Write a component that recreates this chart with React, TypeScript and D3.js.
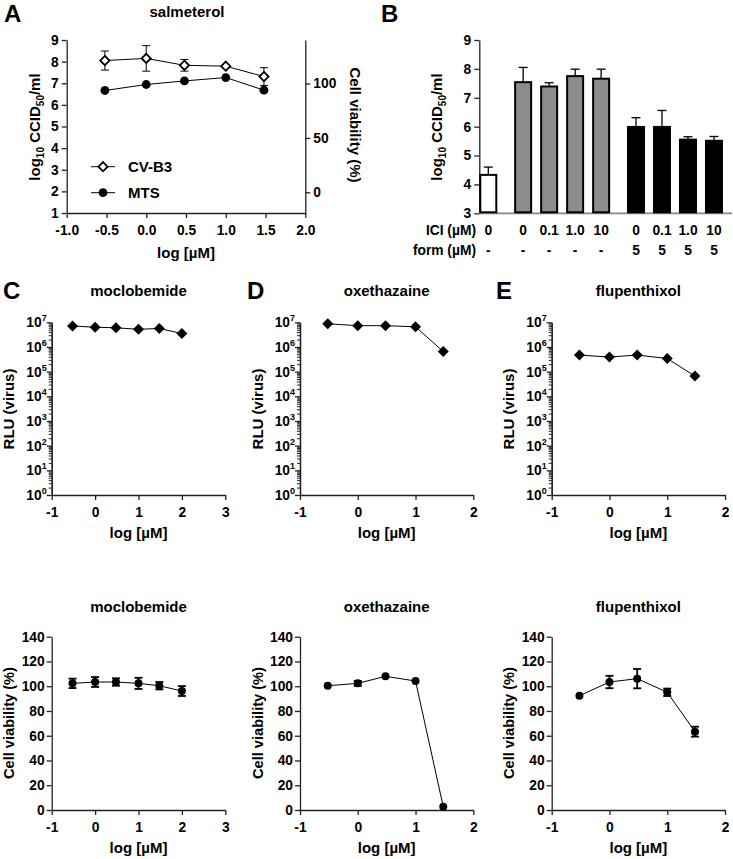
import { useEffect, useRef } from "react";
import * as d3 from "d3";

const FONT = "'Liberation Sans', Arial, Helvetica, sans-serif";
const AXIS = "#222";
const TICK_SIZE = 13.8;

// ---- Panel A: salmeterol ----
const A_DOSE = [-0.52, 0, 0.48, 1.0, 1.48];
const A_CVB3 = [8.05, 8.15, 7.83, 7.79, 7.31];
const A_CVB3_ERR = [0.44, 0.59, 0.27, 0.04, 0.41];
const A_MTS = [93.6, 99.1, 102.4, 105.5, 93.9];
const A_X_TICKS = [-1, -0.5, 0, 0.5, 1, 1.5, 2];
const A_Y_TICKS = [1, 2, 3, 4, 5, 6, 7, 8, 9];
const A_Y2_TICKS = [0, 50, 100];

// ---- Panel B: bars ----
const B_ICI = ["0", "0", "0.1", "1.0", "10", "0", "0.1", "1.0", "10"];
const B_FORM = ["-", "-", "-", "-", "-", "5", "5", "5", "5"];
const B_GROUP = [0, 1, 1, 1, 1, 2, 2, 2, 2];
const B_VALUES = [4.33, 7.54, 7.39, 7.75, 7.66, 5.99, 5.99, 5.55, 5.51];
const B_ERR = [0.27, 0.51, 0.13, 0.24, 0.33, 0.32, 0.57, 0.1, 0.15];
const B_FILLS = ["#ffffff", "#8c8c8c", "#000000"];
const B_Y_TICKS = [3, 4, 5, 6, 7, 8, 9];

// ---- Panels C-E ----
const DRUGS = ["moclobemide", "oxethazaine", "flupenthixol"];
const LETTERS = ["C", "D", "E"];
const DOSES = [
  [-0.52, 0, 0.48, 1.0, 1.48, 2.0],
  [-0.52, 0, 0.48, 1.0, 1.48],
  [-0.52, 0, 0.48, 1.0, 1.48],
];
const X_MAX = [3, 2, 2];
const RLU = [
  [7.1e6, 6.3e6, 6.0e6, 5.2e6, 5.6e6, 3.5e6],
  [8.7e6, 7.3e6, 7.3e6, 6.6e6, 6.5e5],
  [4.7e5, 3.9e5, 4.7e5, 3.4e5, 6.6e4],
];
const VIAB = [
  [102.3, 103.4, 103.4, 102.3, 100.4, 96.1],
  [100.4, 102.3, 108.0, 104.2, 2.7],
  [92.3, 103.4, 106.1, 95.1, 63.3],
];
const VIAB_ERR = [
  [3.8, 4.0, 3.0, 4.5, 3.0, 4.0],
  [0.8, 2.0, 0.8, 0.8, 0.8],
  [0.5, 5.0, 7.8, 3.0, 4.0],
];
const LOG_TICKS = [0, 1, 2, 3, 4, 5, 6, 7];
const VIAB_TICKS = [0, 20, 40, 60, 80, 100, 120, 140];

type G = d3.Selection<any, unknown, null, undefined>;

function text(g: G, x: number, y: number, s: string, size: number, anchor = "middle", rot = 0) {
  return g
    .append("text")
    .attr("transform", `translate(${x},${y}) rotate(${rot})`)
    .attr("text-anchor", anchor)
    .attr("font-family", FONT)
    .attr("font-weight", "bold")
    .attr("font-size", size)
    .attr("fill", "#000")
    .text(s);
}

function styleAxis(a: G, size = TICK_SIZE) {
  a.select(".domain").attr("stroke", AXIS).attr("stroke-width", 1.3);
  a.selectAll(".tick line").attr("stroke", AXIS).attr("stroke-width", 1.3);
  a.selectAll(".tick text")
    .attr("fill", "#000")
    .attr("font-family", FONT)
    .attr("font-weight", "bold")
    .attr("font-size", size);
  return a;
}

const diamond = (s: number) => `M0,${-s}L${s},0L0,${s}L${-s},0Z`;

function errBar(g: G, x: number, y1: number, y2: number, cap: number, w = 1.3) {
  g.append("line").attr("x1", x).attr("x2", x).attr("y1", y1).attr("y2", y2).attr("stroke", "#000").attr("stroke-width", w);
  [y1, y2].forEach((yy) =>
    g.append("line").attr("x1", x - cap).attr("x2", x + cap).attr("y1", yy).attr("y2", yy).attr("stroke", "#000").attr("stroke-width", w)
  );
}

function ccidLabel(svg: G, x: number, y: number) {
  const yl = svg.append("text").attr("transform", `translate(${x},${y}) rotate(-90)`).attr("text-anchor", "middle")
    .attr("font-family", FONT).attr("font-weight", "bold").attr("font-size", 15).attr("fill", "#000");
  yl.append("tspan").text("log");
  yl.append("tspan").attr("font-size", 10).attr("dy", 4).text("10");
  yl.append("tspan").attr("dy", -4).text(" CCID");
  yl.append("tspan").attr("font-size", 10).attr("dy", 4).text("50");
  yl.append("tspan").attr("dy", -4).text("/ml");
}

function drawA(svg: G) {
  const x = d3.scaleLinear().domain([-1, 2]).range([66.7, 305.3]);
  const y = d3.scaleLinear().domain([1, 9]).range([213, 40]);
  const y2 = d3.scaleLinear().domain([-19, 140]).range([213, 40]);

  styleAxis(
    svg.append("g").attr("transform", "translate(0,213)")
      .call(d3.axisBottom(x).tickValues(A_X_TICKS).tickFormat((d) => (+d).toFixed(1)).tickSize(5).tickSizeOuter(0).tickPadding(7))
  );
  styleAxis(
    svg.append("g").attr("transform", "translate(66.7,0)")
      .call(d3.axisLeft(y).tickValues(A_Y_TICKS).tickFormat((d) => String(d)).tickSize(5).tickSizeOuter(0).tickPadding(3))
  );
  styleAxis(
    svg.append("g").attr("transform", "translate(305.3,0)")
      .call(d3.axisRight(y2).tickValues(A_Y2_TICKS).tickFormat((d) => String(d)).tickSize(5).tickSizeOuter(0).tickPadding(3))
  );

  svg.append("path").attr("fill", "none").attr("stroke", "#000").attr("stroke-width", 1)
    .attr("d", d3.line<number>().x((_, i) => x(A_DOSE[i])).y((d) => y2(d))(A_MTS));
  svg.append("path").attr("fill", "none").attr("stroke", "#000").attr("stroke-width", 1)
    .attr("d", d3.line<number>().x((_, i) => x(A_DOSE[i])).y((d) => y(d))(A_CVB3));

  A_CVB3.forEach((v, i) => errBar(svg, x(A_DOSE[i]), y(v - A_CVB3_ERR[i]), y(v + A_CVB3_ERR[i]), 4, 1));
  A_MTS.forEach((v, i) => svg.append("circle").attr("cx", x(A_DOSE[i])).attr("cy", y2(v)).attr("r", 4.4).attr("fill", "#000"));
  A_CVB3.forEach((v, i) =>
    svg.append("path").attr("transform", `translate(${x(A_DOSE[i])},${y(v)})`).attr("d", diamond(4.6))
      .attr("fill", "#fff").attr("stroke", "#000").attr("stroke-width", 1.8)
  );

  // legend
  const ly = [166.7, 192.7];
  ly.forEach((yy) => svg.append("line").attr("x1", 91).attr("x2", 115).attr("y1", yy).attr("y2", yy).attr("stroke", "#000").attr("stroke-width", 1));
  svg.append("path").attr("transform", `translate(103,${ly[0]})`).attr("d", diamond(4.6)).attr("fill", "#fff").attr("stroke", "#000").attr("stroke-width", 1.8);
  svg.append("circle").attr("cx", 103).attr("cy", ly[1]).attr("r", 4.4).attr("fill", "#000");
  text(svg, 128, ly[0] + 5.5, "CV-B3", 15, "start");
  text(svg, 128, ly[1] + 5.5, "MTS", 15, "start");

  text(svg, 4, 22, "A", 24, "start");
  text(svg, 187, 17, "salmeterol", 15);
  text(svg, 186, 258, "log [µM]", 15);
  ccidLabel(svg, 40, 127);
  text(svg, 350, 125, "Cell viability (%)", 15, "middle", 90);
}

function drawB(svg: G) {
  const pos = B_GROUP.map((g, i) => i + g * 0.34);
  const x = d3.scaleLinear().domain([0, 1]).range([488.3, 514.3]);
  const y = d3.scaleLinear().domain([3, 9]).range([213.3, 40]);

  styleAxis(
    svg.append("g").attr("transform", "translate(479.3,0)")
      .call(d3.axisLeft(y).tickValues(B_Y_TICKS).tickFormat((d) => String(d)).tickSize(5).tickSizeOuter(0).tickPadding(3))
  );
  svg.append("line").attr("x1", 479.3).attr("x2", 732).attr("y1", y(3)).attr("y2", y(3)).attr("stroke", "#888").attr("stroke-width", 1.8);

  B_VALUES.forEach((v, i) => {
    const cx = x(pos[i]);
    svg.append("line").attr("x1", cx).attr("x2", cx).attr("y1", y(v)).attr("y2", y(v + B_ERR[i])).attr("stroke", "#000").attr("stroke-width", 1.3);
    svg.append("line").attr("x1", cx - 4.5).attr("x2", cx + 4.5).attr("y1", y(v + B_ERR[i])).attr("y2", y(v + B_ERR[i])).attr("stroke", "#000").attr("stroke-width", 1.3);
    svg.append("rect").attr("x", cx - 8).attr("width", 16).attr("y", y(v)).attr("height", y(3) - y(v) - 1)
      .attr("fill", B_FILLS[B_GROUP[i]]).attr("stroke", "#000").attr("stroke-width", 2);
    text(svg, cx, 235, B_ICI[i], TICK_SIZE);
    text(svg, cx, 255, B_FORM[i], TICK_SIZE);
  });
  text(svg, 476, 235, "ICI (µM)", TICK_SIZE, "end");
  text(svg, 476, 255, "form (µM)", TICK_SIZE, "end");
  text(svg, 381, 22, "B", 24, "start");
  ccidLabel(svg, 442, 127);
}

const PANEL_LEFT = [51.7, 300, 551.7];
const PANEL_RIGHT = [225.3, 473.3, 725];
const LETTER_X = [3, 247, 496];
const YLABEL_X = [14, 263, 514];

function drawDrug(svg: G, k: number) {
  const xr = [PANEL_LEFT[k], PANEL_RIGHT[k]];
  const xTicks = d3.range(-1, X_MAX[k] + 1);
  const mid = (xr[0] + xr[1]) / 2;

  // --- top: RLU (log) ---
  {
    const x = d3.scaleLinear().domain([-1, X_MAX[k]]).range(xr);
    const y = d3.scaleLog().domain([1, 1e7]).range([495, 322.3]);
    styleAxis(
      svg.append("g").attr("transform", "translate(0,495)")
        .call(d3.axisBottom(x).tickValues(xTicks).tickFormat((d) => String(d)).tickSize(5).tickSizeOuter(0).tickPadding(7))
    );
    const minor: number[] = [];
    LOG_TICKS.slice(0, -1).forEach((e) => d3.range(2, 10).forEach((m) => minor.push(m * Math.pow(10, e))));
    styleAxis(
      svg.append("g").attr("transform", `translate(${xr[0]},0)`)
        .call(d3.axisLeft(y).tickValues(minor).tickFormat(() => "").tickSize(3).tickSizeOuter(0))
    ).selectAll(".tick line").attr("stroke-width", 1);
    styleAxis(
      svg.append("g").attr("transform", `translate(${xr[0]},0)`)
        .call(d3.axisLeft(y).tickValues(LOG_TICKS.map((e) => Math.pow(10, e))).tickFormat(() => "").tickSize(5).tickSizeOuter(0))
    );
    LOG_TICKS.forEach((e) => {
      const t = text(svg, xr[0] - 5, y(Math.pow(10, e)) + 5, "", TICK_SIZE, "end");
      t.append("tspan").text("10");
      t.append("tspan").attr("font-size", 9).attr("dy", -6).text(String(e));
    });

    const pts = RLU[k].map((v, i) => [x(DOSES[k][i]), y(v)] as [number, number]);
    svg.append("path").attr("d", d3.line()(pts)).attr("fill", "none").attr("stroke", "#000").attr("stroke-width", 1);
    pts.forEach(([px, py]) => svg.append("path").attr("transform", `translate(${px},${py})`).attr("d", diamond(5.5)).attr("fill", "#000"));

    text(svg, LETTER_X[k], 299, LETTERS[k], 24, "start");
    text(svg, mid, 296, DRUGS[k], 15);
    text(svg, mid, 538, "log [µM]", 15);
    text(svg, YLABEL_X[k], 409, "RLU (virus)", 15, "middle", -90);
  }

  // --- bottom: viability ---
  {
    const x = d3.scaleLinear().domain([-1, X_MAX[k]]).range(xr);
    const y = d3.scaleLinear().domain([0, 140]).range([810, 636.7]);
    styleAxis(
      svg.append("g").attr("transform", "translate(0,810)")
        .call(d3.axisBottom(x).tickValues(xTicks).tickFormat((d) => String(d)).tickSize(5).tickSizeOuter(0).tickPadding(7))
    );
    styleAxis(
      svg.append("g").attr("transform", `translate(${xr[0]},0)`)
        .call(d3.axisLeft(y).tickValues(VIAB_TICKS).tickFormat((d) => String(d)).tickSize(5).tickSizeOuter(0).tickPadding(2))
    );
    const pts = VIAB[k].map((v, i) => [x(DOSES[k][i]), y(v)] as [number, number]);
    svg.append("path").attr("d", d3.line()(pts)).attr("fill", "none").attr("stroke", "#000").attr("stroke-width", 1);
    VIAB[k].forEach((v, i) => {
      if (VIAB_ERR[k][i] > 1) errBar(svg, pts[i][0], y(v - VIAB_ERR[k][i]), y(v + VIAB_ERR[k][i]), 4, 1.8);
    });
    pts.forEach(([px, py]) => svg.append("circle").attr("cx", px).attr("cy", py).attr("r", 4).attr("fill", "#000"));

    text(svg, mid, 612, DRUGS[k], 15);
    text(svg, mid, 853, "log [µM]", 15);
    text(svg, YLABEL_X[k], 723, "Cell viability (%)", 14.6, "middle", -90);
  }
}

export default function App() {
  const ref = useRef<SVGSVGElement>(null);
  useEffect(() => {
    if (!ref.current) return;
    const svg = d3.select(ref.current) as unknown as G;
    svg.selectAll("*").remove();
    svg.append("rect").attr("width", 733).attr("height", 859).attr("fill", "#fff");
    drawA(svg);
    drawB(svg);
    [0, 1, 2].forEach((k) => drawDrug(svg, k));
  }, []);
  return (
    <svg
      ref={ref}
      width={733}
      height={859}
      style={{ position: "absolute", left: 0, top: 0, background: "#fff" }}
    />
  );
}
